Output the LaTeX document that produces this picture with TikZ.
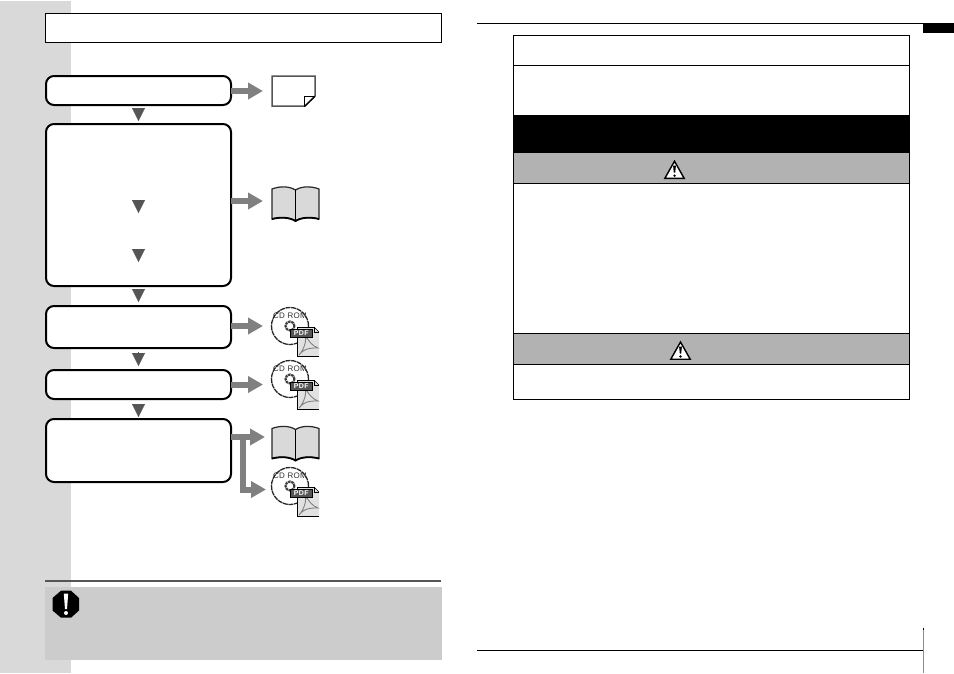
\documentclass[tikz,border=0pt]{standalone}
\usepackage{fontspec}
\setmainfont{Liberation Sans}
\usetikzlibrary{arrows.meta,calc}
\definecolor{sidegray}{HTML}{D9D9D9}
\definecolor{notegray}{HTML}{CCCCCC}
\definecolor{bandgray}{HTML}{B2B2B2}
\definecolor{arrowgray}{HTML}{808080}
\definecolor{tridark}{HTML}{555555}
\tikzset{
  x=1pt,y=-1pt,
  flowbox/.style={draw=black,fill=white,line width=2pt,rounded corners=8pt,minimum width=185pt,outer sep=0pt,inner sep=0pt},
  fatarrow/.style={draw=arrowgray,line width=6pt,-{Triangle[length=15pt,width=16pt]},line join=miter},
  downtri/.style={draw=tridark,line width=0.3pt,-{Triangle[length=13pt,width=13pt]}},
  rule/.style={draw=black,line width=1pt},
  band/.style={fill=bandgray,draw=none},
  pics/bookicon/.style={code={
    \draw[fill=sidegray,draw=black!85,line width=1.2pt]
      (0,3) .. controls (8,0) and (17,0) .. (23.5,4) .. controls (30,0) and (39,0) .. (47,3)
      -- (47,33) .. controls (39,31) and (30,31) .. (23.5,35) .. controls (17,31) and (8,31) .. (0,33) -- cycle;
    \draw[line width=1pt] (23.5,4) -- (23.5,35);
    \draw[line width=1.8pt] (0,33) .. controls (8,31) and (17,31) .. (23.5,35) .. controls (30,31) and (39,31) .. (47,33);
  }},
  pics/cdicon/.style={code={
    \draw[fill=white,draw=black!85,line width=1.3pt,dash pattern=on 5pt off 0.7pt] (0,0) circle[radius=18.5pt];
    \draw[draw=black!75,line width=2.2pt,dash pattern=on 2.5pt off 0.7pt] (0,0) circle[radius=4.5pt];
    \node[font=\fontsize{8}{8}\selectfont\addfontfeature{LetterSpace=4},text=black!80,inner sep=0pt] at (0,-10.5) {CD ROM};
    \draw[fill=sidegray!80!white,draw=none] (7,1) -- (24,1) -- (29,6) -- (29,30) -- (7,30) -- cycle;
    \draw[black,line width=1pt] (29,30) -- (7,30) -- (7,1) -- (24,1) -- (24,6) -- (29,6);
    \draw[black,line width=0.6pt] (24,1) -- (29,6);
    \draw[arrowgray,line width=0.9pt] (9,29) .. controls (14,24) and (17,14) .. (15,9) .. controls (18,14) and (22,20) .. (28,22) .. controls (24,22) and (15,21) .. (9,29);
    \draw[fill=tridark,draw=black,line width=0.7pt] (0,3) rectangle (22.5,11);
    \node[font=\fontsize{7}{7}\selectfont\bfseries\addfontfeature{LetterSpace=4},text=white,inner sep=0pt] at (11.25,7) {PDF};
  }},
  pics/warnicon/.style={code={
    \draw[fill=white,draw=black,line width=1.4pt,line join=miter] (0,-8.5) -- (9.7,8.7) -- (-9.7,8.7) -- cycle;
    \fill[black] (-1.4,-4) -- (1.4,-4) -- (0.7,3) -- (-0.7,3) -- cycle;
    \fill[black] (0,6) circle[radius=1.3pt];
  }},
}
\begin{document}
\begin{tikzpicture}
\useasboundingbox (0,0) rectangle (954,673);
\fill[white] (0,0) rectangle (954,673);
% sidebar
\fill[sidegray] (0,1) rectangle (71,673);
% title frame
\draw[rule,fill=white] (45.5,13.5) rectangle (441.5,42.5);
% flow boxes
\node[flowbox,minimum height=29pt] (b1) at (138.5,90.5) {};
\node[flowbox,minimum height=162pt] (b2) at (138.5,205) {};
\node[flowbox,minimum height=42pt] (b3) at (138.5,327) {};
\node[flowbox,minimum height=29pt] (b4) at (138.5,384.5) {};
\node[flowbox,minimum height=63pt] (b5) at (138.5,450.5) {};
% inner points of box 2
\coordinate (s1) at (138.5,200);
\coordinate (s2) at (138.5,213);
\coordinate (s3) at (138.5,249);
\coordinate (s4) at (138.5,262);
% icon positions
\coordinate (doc) at (272,91);
\coordinate (bk1) at (272,201);
\coordinate (cd1) at (290,326);
\coordinate (cd2) at (290,379);
\coordinate (bk2) at (272,437);
\coordinate (cd3) at (290,486);
\coordinate (split) at (243,437);
% down triangles
\draw[downtri,shorten <=3pt,shorten >=3pt] (b1.south) -- (b2.north);
\draw[downtri] (s1) -- (s2);
\draw[downtri] (s3) -- (s4);
\draw[downtri,shorten <=3pt,shorten >=4pt] (b2.south) -- (b3.north);
\draw[downtri,shorten <=4pt,shorten >=4pt] (b3.south) -- (b4.north);
\draw[downtri,shorten <=5pt,shorten >=2pt] (b4.south) -- (b5.north);
% fat arrows
\draw[fatarrow,shorten >=9pt] (b1.east |- doc) -- (doc);
\draw[fatarrow,shorten >=9pt] (b2.east |- bk1) -- (bk1);
\draw[fatarrow] (b3.east |- cd1) -- ([xshift=-27pt]cd1);
\draw[fatarrow] (b4.east) -- ([xshift=-27pt]b4.east -| cd2);
\draw[fatarrow,shorten >=7pt] (b5.east |- bk2) -- (bk2);
\draw[fatarrow] (split) |- ([xshift=-24pt,yshift=-3.5pt]cd3);
% document icon
\draw[draw=tridark,fill=white,line width=1.5pt,line join=miter] (doc) ++(0,-15) -- ++(43,0) -- ++(0,20) -- ++(-10,10) -- ++(-33,0) -- cycle;
\draw[black,line width=1pt] (doc) ++(32.5,15.5) -- ++(0,-10) -- ++(10.5,0);
\draw[black,line width=1pt] (doc) ++(32.5,15.5) -- ++(10.5,-10);
% book icons
\pic at (272,186) {bookicon};
\pic at (272,425.5) {bookicon};
% cd icons
\pic at (cd1) {cdicon};
\pic at (cd2) {cdicon};
\pic at (cd3) {cdicon};
% note
\draw[draw=tridark,line width=2pt] (45,581) -- (441,581);
\fill[notegray] (45,587) rectangle (442,660);
\fill[black] (61,590.7) -- (71,590.7) -- (79,598) -- (79,610.5) -- (71,617.7) -- (61,617.7) -- (52.5,610.5) -- (52.5,598) -- cycle;
\fill[white] (63.8,593.5) -- (68.2,593.5) -- (67,609) -- (65,609) -- cycle;
\fill[white] (66,613) circle[radius=2pt];
% right page rules
\draw[rule] (477,23.3) -- (923,23.3);
\fill[black] (923,23) rectangle (954,33);
\draw[rule] (477,650.3) -- (923,650.3);
\draw[draw=black!45,line width=1pt] (923.7,628) -- (923.7,673);
\fill[black] (923.2,628) rectangle (924.2,629.5);
% right table
\fill[black] (513.5,115) rectangle (909.5,153);
\fill[band] (513.5,153) rectangle (909.5,183.3);
\fill[band] (513.5,333.5) rectangle (909.5,364.3);
\draw[rule] (513.5,65.5) -- (909.5,65.5);
\draw[rule] (513.5,183.3) -- (909.5,183.3);
\draw[rule] (513.5,333.5) -- (909.5,333.5);
\draw[rule] (513.5,364.3) -- (909.5,364.3);
\draw[rule] (513.5,35.5) rectangle (909.5,399.3);
\pic at (674.5,169.7) {warnicon};
\pic at (680.5,350.5) {warnicon};
\end{tikzpicture}
\end{document}
